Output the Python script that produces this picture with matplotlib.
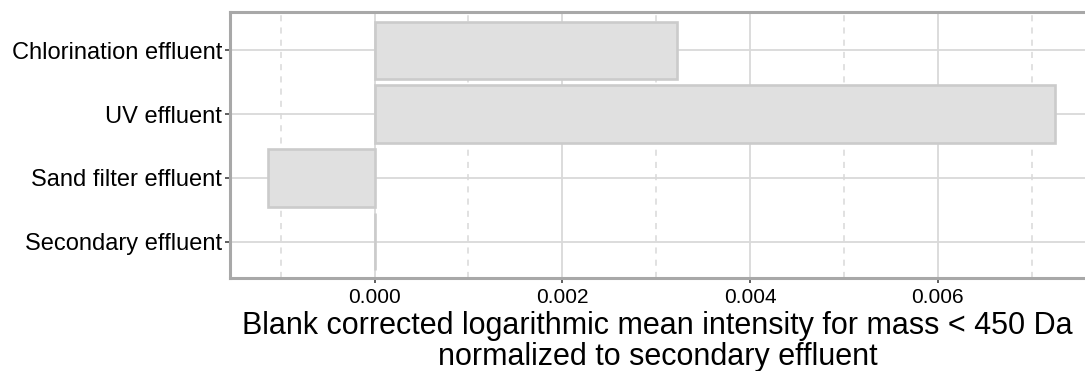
import numpy as np
import matplotlib
matplotlib.use("Agg")
import matplotlib.pyplot as plt
from matplotlib.ticker import MultipleLocator

# data
categories = ["Secondary effluent", "Sand filter effluent", "UV effluent", "Chlorination effluent"]
values = [0.0, -0.00113, 0.00725, 0.00322]
xticks = [0.000, 0.002, 0.004, 0.006]
xticklabels = ["0.000", "0.002", "0.004", "0.006"]

plt.rcParams['font.family'] = ['Liberation Sans', 'DejaVu Sans']

fig = plt.figure(figsize=(10.85, 3.71), dpi=100)
ax = fig.add_axes([230 / 1085, 1 - 278 / 371, 1 - 230 / 1085, (278 - 12) / 371])

ypos = np.arange(1, len(categories) + 1)
ax.barh(ypos, values, height=0.9, color="#e0e0e0", edgecolor="#cbcbcb",
        linewidth=1.9, zorder=3)

ax.set_xlim(-0.00154, 0.00757)
ax.set_ylim(0.43, 4.6)

ax.set_yticks(ypos)
ax.set_yticklabels(categories, fontsize=17, color="black")
ax.set_xticks(xticks)
ax.set_xticklabels(xticklabels, fontsize=15, color="black")
ax.xaxis.set_minor_locator(MultipleLocator(0.001))

ax.grid(which="major", axis="both", color="#d9d9d9", linewidth=1.3, zorder=0)
ax.grid(which="minor", axis="x", color="#d9d9d9", linewidth=1.1, linestyle=(0, (4, 4)), zorder=0)
ax.tick_params(axis="both", which="major", length=3.5, width=1.1, color="#333333", pad=2)
ax.tick_params(axis="x", which="major", pad=3.5)
ax.tick_params(axis="x", which="minor", length=0)

for side in ["left", "bottom", "top"]:
    ax.spines[side].set_color("#a8a8a8")
    ax.spines[side].set_linewidth(2.2)
ax.spines["right"].set_visible(False)

ax.set_xlabel("Blank corrected logarithmic mean intensity for mass < 450 Da\nnormalized to secondary effluent",
              fontsize=22, linespacing=1.05, labelpad=3)

fig.savefig("out.png", dpi=100)
